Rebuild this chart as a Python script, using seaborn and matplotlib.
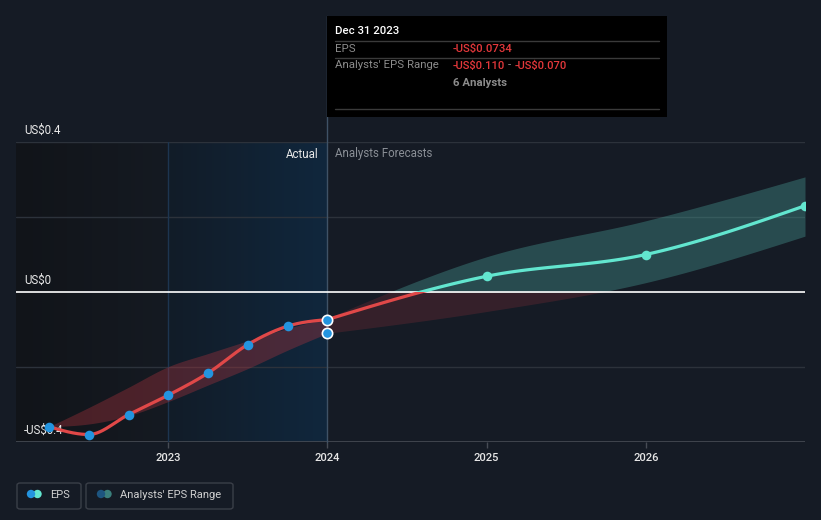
import numpy as np
import pandas as pd
import matplotlib
matplotlib.use("Agg")
import matplotlib.pyplot as plt
import matplotlib.transforms as mtransforms
import seaborn as sns
from matplotlib.patches import Rectangle, FancyBboxPatch, Ellipse
from matplotlib.colors import LinearSegmentedColormap

# ---------------- data ----------------
hist_dates = ["2022-03-31", "2022-06-30", "2022-09-30", "2022-12-31",
              "2023-03-31", "2023-06-30", "2023-09-30", "2023-12-31"]
hist_eps = [-0.359, -0.380, -0.327, -0.275, -0.216, -0.140, -0.091, -0.0734]
hist_range_high = [-0.359, -0.308, -0.254, -0.199, -0.164, -0.130, -0.097, -0.070]
hist_range_low = [-0.359, -0.352, -0.330, -0.292, -0.248, -0.204, -0.155, -0.110]

fc_dates = ["2023-12-31", "2024-12-31", "2025-12-31", "2026-12-31"]
fc_eps = [-0.0734, 0.042, 0.100, 0.230]
fc_range_high = [-0.070, 0.094, 0.190, 0.307]
fc_range_low = [-0.110, -0.052, 0.025, 0.149]

year_ticks = [2023, 2024, 2025, 2026]
y_ticks = [-0.4, 0.0, 0.4]
y_tick_labels = ["-US$0.4", "US$0", "US$0.4"]

tooltip_date = "Dec 31 2023"
tooltip_eps = "-US$0.0734"
tooltip_range = ("-US$0.110", "-US$0.070")
tooltip_analysts = "6 Analysts"


def dec_year(s):
    d = pd.Timestamp(s)
    return d.year + d.month / 12.0 if d.month != 12 else d.year + 1.0


def monotone(x, y, n=40):
    x = np.asarray(x, float)
    y = np.asarray(y, float)
    h = np.diff(x)
    d = np.diff(y) / h
    m = np.zeros_like(x)
    for k in range(1, len(x) - 1):
        s0, s1 = d[k - 1], d[k]
        p = (s0 * h[k] + s1 * h[k - 1]) / (h[k - 1] + h[k])
        m[k] = (np.sign(s0) + np.sign(s1)) * min(abs(s0), abs(s1), 0.5 * abs(p))
    if len(x) > 2:
        m[0] = (3 * d[0] - m[1]) / 2
        m[-1] = (3 * d[-1] - m[-2]) / 2
    else:
        m[:] = d[0]
    xs, ys = [], []
    for k in range(len(x) - 1):
        t = np.linspace(0, 1, n, endpoint=(k == len(x) - 2))
        h00 = 2 * t**3 - 3 * t**2 + 1
        h10 = t**3 - 2 * t**2 + t
        h01 = -2 * t**3 + 3 * t**2
        h11 = t**3 - t**2
        xs.append(x[k] + t * h[k])
        ys.append(h00 * y[k] + h10 * h[k] * m[k] + h01 * y[k + 1] + h11 * h[k] * m[k + 1])
    return np.concatenate(xs), np.concatenate(ys)


hx = [dec_year(s) for s in hist_dates]
fx = [dec_year(s) for s in fc_dates]

# ---------------- figure ----------------
W, H = 821, 520
BG = "#151b25"
sns.set_theme(style="dark")
plt.rcParams["font.family"] = ["Roboto", "DejaVu Sans"]

fig = plt.figure(figsize=(W / 100, H / 100), dpi=100, facecolor=BG)
ax = fig.add_axes([16 / W, 1 - 442 / H, (805 - 16) / W, 300 / H])
ax.set_facecolor(BG)
XMIN, XMAX = 2022.043, 2027.0
for s in ax.spines.values():
    s.set_visible(False)

# background shaded regions
left_cmap = LinearSegmentedColormap.from_list("l", ["#111419", "#151a22"])
ax.imshow(np.linspace(0, 1, 256).reshape(1, -1), cmap=left_cmap, aspect="auto",
          extent=[XMIN, 2023, -0.4, 0.4], zorder=0)
act_cmap = LinearSegmentedColormap.from_list("a", ["#121c28", "#10273d"])
ax.imshow(np.linspace(0, 1, 256).reshape(1, -1), cmap=act_cmap, aspect="auto",
          extent=[2023, 2024, -0.4, 0.4], zorder=0)
ax.set_xlim(XMIN, XMAX)
ax.set_ylim(-0.4, 0.4)

# grid lines
for yv in [0.4, 0.2, -0.2]:
    ax.axhline(yv, color="#2c323b", lw=1, zorder=1)
ax.axhline(-0.4, color="#474c55", lw=1.2, zorder=1)
ax.axhline(0.0, color="#ffffff", lw=1.2, zorder=3)
ax.axvline(2023, color="#1d3550", lw=1, zorder=1)
ax.plot([2024, 2024], [-0.4, 0.4 + 0.8 * 126 / 300], color="#3f5266", lw=1,
        zorder=2, clip_on=False)

# historical range band
bx, bh = monotone(hx, hist_range_high)
_, bl = monotone(hx, hist_range_low)
ax.fill_between(bx, bl, bh, color="#b8353f", alpha=0.34, lw=0, zorder=2)

# forecast range band (teal above zero, red below)
fbx, fbh = monotone(fx, fc_range_high)
_, fbl = monotone(fx, fc_range_low)
pos = ax.fill_between(fbx, fbl, fbh, color="#4aa39a", alpha=0.36, lw=0, zorder=2)
pos.set_clip_path(Rectangle((XMIN, 0), XMAX - XMIN, 1, transform=ax.transData))
neg = ax.fill_between(fbx, fbl, fbh, color="#a8353f", alpha=0.22, lw=0, zorder=2)
neg.set_clip_path(Rectangle((XMIN, -1), XMAX - XMIN, 1, transform=ax.transData))

# lines
lx, ly = monotone(hx, hist_eps)
sns.lineplot(x=lx, y=ly, sort=False, color="#e04848", lw=2.3, ax=ax, zorder=4)
flx, fly = monotone(fx, fc_eps)
sns.lineplot(x=flx, y=fly, sort=False, color="#e04848", lw=2.3, ax=ax, zorder=4)
l_red = ax.lines[-1]
l_red.set_clip_path(Rectangle((XMIN, -1), XMAX - XMIN, 1, transform=ax.transData))
sns.lineplot(x=flx, y=fly, sort=False, color="#62e6cf", lw=2.3, ax=ax, zorder=4)
l_teal = ax.lines[-1]
l_teal.set_clip_path(Rectangle((XMIN, 0), XMAX - XMIN, 1, transform=ax.transData))

# markers
sns.scatterplot(x=hx[:-1], y=hist_eps[:-1], color="#2394df", s=48, lw=0,
                ax=ax, zorder=5)
sns.scatterplot(x=[hx[-1], hx[-1]], y=[hist_eps[-1], hist_range_low[-1]],
                color="#2394df", s=55, edgecolor="white", lw=1.2, ax=ax,
                zorder=6, clip_on=False)
sns.scatterplot(x=fx[1:], y=fc_eps[1:], color="#62e6cf", s=48, lw=0, ax=ax,
                zorder=5)

# axes ticks
ax.set_xticks(year_ticks)
ax.set_xticklabels([str(y) for y in year_ticks], color="#e6e6e6", fontsize=8,
                   fontweight="medium")
ax.tick_params(axis="x", length=4, color="#474c55", pad=4, width=1,
               bottom=True)
ax.set_yticks([])
ax.set_xlabel("")
ax.set_ylabel("")
blend = mtransforms.blended_transform_factory(fig.transFigure, ax.transData)
for yv, lab in zip(y_ticks, y_tick_labels):
    ax.text(24 / W, yv + 0.8 * 5 / 300, lab, transform=blend,
            color="#e8e8e8", fontsize=8.3, va="bottom", ha="left", zorder=3)

# Actual / Analysts Forecasts
ax.text(2024 - 9 / 159.4, 0.4 - 0.8 * 12 / 300, "Actual", color="#e8e8e8",
        fontsize=8.3, ha="right", va="center", zorder=6)
ax.text(2024 + 8 / 159.4, 0.4 - 0.8 * 12 / 300, "Analysts Forecasts",
        color="#8a8f96", fontsize=8.3, ha="left", va="center", zorder=6)


# ---------------- tooltip ----------------
def fxp(x):
    return x / W


def fyp(y):
    return 1 - y / H


fig.patches.append(Rectangle((fxp(327), fyp(117)), 340 / W, 101 / H,
                             transform=fig.transFigure, facecolor="#000000",
                             edgecolor="none", zorder=10))
for yy in [41, 58, 109]:
    fig.add_artist(plt.Line2D([fxp(335), fxp(659)], [fyp(yy), fyp(yy)],
                              transform=fig.transFigure, color="#3a3a3a",
                              lw=1, zorder=11))
fig.text(fxp(335), fyp(31), tooltip_date, color="#ffffff", fontsize=8.2,
         fontweight="medium", va="center", ha="left", zorder=12)
fig.text(fxp(335), fyp(48.5), "EPS", color="#8c8c8c", fontsize=8.2,
         va="center", ha="left", zorder=12)
fig.text(fxp(453), fyp(48.5), tooltip_eps, color="#e5383b", fontsize=8.2,
         fontweight="medium", va="center", ha="left", zorder=12)
fig.text(fxp(335), fyp(65.5), "Analysts' EPS Range", color="#8c8c8c",
         fontsize=8.2, va="center", ha="left", zorder=12)
fig.text(fxp(453), fyp(65.5), tooltip_range[0], color="#e5383b",
         fontsize=8.0, fontweight="medium", va="center", ha="left", zorder=12)
fig.text(fxp(507.5), fyp(65.5), "-", color="#8c8c8c", fontsize=8.2,
         va="center", ha="left", zorder=12)
fig.text(fxp(515), fyp(65.5), tooltip_range[1], color="#e5383b",
         fontsize=8.0, fontweight="medium", va="center", ha="left", zorder=12)
fig.text(fxp(453), fyp(83), tooltip_analysts, color="#8c8c8c", fontsize=8.2,
         fontweight="bold", va="center", ha="left", zorder=12)

# ---------------- legend ----------------
for (x0, x1) in [(17, 81), (86, 233)]:
    fig.patches.append(FancyBboxPatch((fxp(x0), fyp(509)), (x1 - x0) / W,
                                      26 / H, boxstyle="round,pad=0,rounding_size=0.004",
                                      transform=fig.transFigure, facecolor="none",
                                      edgecolor="#3a3f48", lw=1, zorder=10))


def dot(x, y, c, r=4.2):
    fig.add_artist(Ellipse((fxp(x), fyp(y)), 2 * r / W, 2 * r / H,
                           transform=fig.transFigure, facecolor=c,
                           edgecolor="none", zorder=11))


dot(37.5, 494, "#62e6cf")
dot(31, 494, "#2394df")
dot(107.5, 494, "#3a7f7c")
dot(101, 494, "#1d5580")
fig.text(fxp(50), fyp(495), "EPS", color="#d0d0d0", fontsize=8, va="center",
         ha="left", zorder=12)
fig.text(fxp(120), fyp(495), "Analysts' EPS Range", color="#d0d0d0",
         fontsize=8, va="center", ha="left", zorder=12)

fig.savefig("out.png", dpi=100, facecolor=BG)
